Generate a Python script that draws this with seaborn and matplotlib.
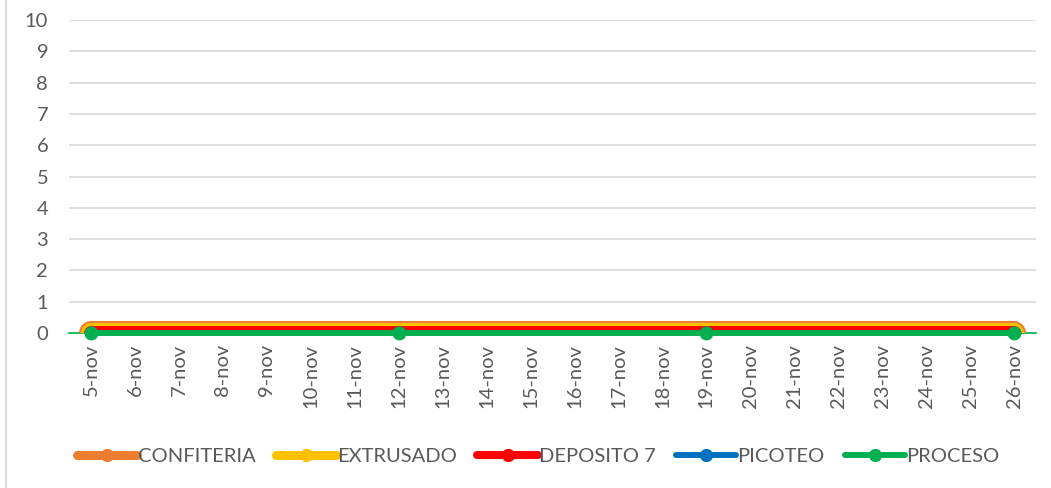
import matplotlib
matplotlib.use("Agg")
import matplotlib.pyplot as plt
from matplotlib.lines import Line2D
import seaborn as sns
import pandas as pd

# ---- data ----
categories = ["5-nov", "6-nov", "7-nov", "8-nov", "9-nov", "10-nov", "11-nov", "12-nov",
              "13-nov", "14-nov", "15-nov", "16-nov", "17-nov", "18-nov", "19-nov", "20-nov",
              "21-nov", "22-nov", "23-nov", "24-nov", "25-nov", "26-nov"]
point_dates = ["5-nov", "12-nov", "19-nov", "26-nov"]
series_names = ["CONFITERIA", "EXTRUSADO", "DEPOSITO 7", "PICOTEO", "PROCESO"]
confiteria = [0, 0, 0, 0]
extrusado = [0, 0, 0, 0]
deposito7 = [0, 0, 0, 0]
picoteo = [0, 0, 0, 0]
proceso = [0, 0, 0, 0]
y_ticks = [0, 1, 2, 3, 4, 5, 6, 7, 8, 9, 10]

# ---- styling ----
colors = ["#ED7D31", "#FFC000", "#FF0000", "#0070C0", "#00B050"]
line_w = [17.3, 14.4, 10.0, 4.3, 4.3]
legend_w = [6.5, 6.5, 5.8, 4.3, 4.3]
text_color = "#595959"
fs = 14.5

sns.set_theme(style="white")
plt.rcParams["font.family"] = ["Lato", "DejaVu Sans"]

fig = plt.figure(figsize=(10.51, 4.88), dpi=100)
ax = fig.add_axes([69 / 1051, 1 - 333 / 488, (1036 - 69) / 1051, (333 - 20) / 488])

pos = {c: i for i, c in enumerate(categories)}
values = [confiteria, extrusado, deposito7, picoteo, proceso]
for k, (name, vals) in enumerate(zip(series_names, values)):
    df = pd.DataFrame({"x": [pos[d] for d in point_dates], "y": vals})
    sns.lineplot(data=df, x="x", y="y", ax=ax, color=colors[k], linewidth=line_w[k],
                 marker="o", markersize=10, markeredgewidth=0,
                 solid_capstyle="round", legend=False, zorder=3 + k,
                 clip_on=(name != "PROCESO"))

ax.set_xlim(-0.5, len(categories) - 0.5)
ax.set_ylim(0, 10)
ax.set_yticks(y_ticks)
ax.set_yticklabels([str(v) for v in y_ticks])
ax.set_xticks(range(len(categories)))
ax.set_xticklabels(categories, rotation=90)
ax.tick_params(axis="y", length=0, pad=15, labelsize=fs, labelcolor=text_color)
ax.tick_params(axis="x", length=0, pad=8, labelsize=fs, labelcolor=text_color)
ax.set_xlabel("")
ax.set_ylabel("")
ax.yaxis.grid(True, color="#D9D9D9", linewidth=1.2)
ax.xaxis.grid(False)
for s in ["left", "right", "top"]:
    ax.spines[s].set_visible(False)
ax.spines["bottom"].set_color("#00B050")
ax.spines["bottom"].set_linewidth(1.2)
ax.spines["bottom"].set_zorder(2)

handles = [Line2D([0], [0], color=colors[k], lw=legend_w[k], marker="o", markersize=9.5,
                  markeredgewidth=0, solid_capstyle="round") for k in range(5)]
leg = fig.legend(handles, series_names, loc="center", bbox_to_anchor=(538 / 1051, 1 - 456 / 488),
                 ncol=5, frameon=False, fontsize=fs, handlelength=3.0, handletextpad=0.05,
                 columnspacing=1.0)
for t in leg.get_texts():
    t.set_color(text_color)

fig.add_artist(Line2D([5.5 / 1051, 5.5 / 1051], [0, 1], color="#D9D9D9", lw=1.5,
                      transform=fig.transFigure))

fig.savefig("out.png", dpi=100)
